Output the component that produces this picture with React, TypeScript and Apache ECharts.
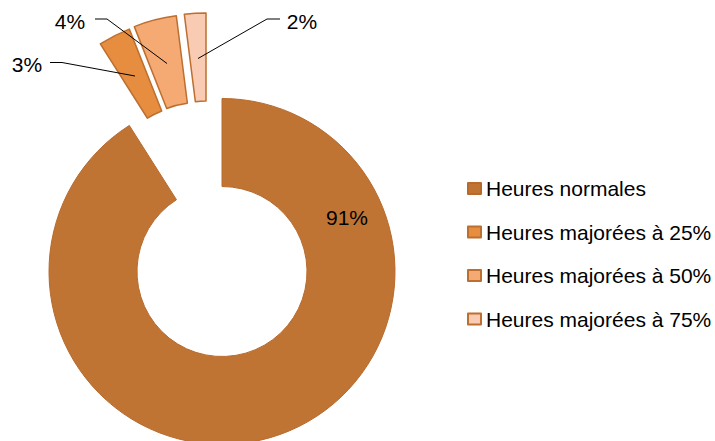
import React, { useEffect, useRef } from "react";
import * as echarts from "echarts";

const categories = [
  "Heures normales",
  "Heures majorées à 25%",
  "Heures majorées à 50%",
  "Heures majorées à 75%",
];
const values = [91, 3, 4, 2];
const colors = ["#C07433", "#E68D40", "#F5AA74", "#F9CBB3"];

// layout (not data)
const CX = 222;
const CY = 271.5;
const explodeShift = [
  [0, 0],
  [-29, -81.5],
  [-24, -84],
  [-16, -85.5],
];
const labelAnchors = [
  [347, 217],
  [27, 64.5],
  [70, 21],
  [302, 21],
];
const leaderLines: number[][][] = [
  [
    [50, 62.5],
    [62, 62.5],
    [135, 76],
  ],
  [
    [95, 19],
    [107, 19],
    [167, 63.5],
  ],
  [
    [280, 19],
    [267, 19],
    [198, 58.5],
  ],
];

const FONT = "'Liberation Sans', Arial, sans-serif";

export default function App() {
  const ref = useRef<HTMLDivElement>(null);
  useEffect(() => {
    if (!ref.current) return;
    const chart = echarts.init(ref.current, undefined, { renderer: "svg" });
    const series = categories.map((_, i) => ({
      type: "pie",
      silent: true,
      selectedMode: false,
      avoidLabelOverlap: false,
      clockwise: true,
      startAngle: 90,
      center: [CX + explodeShift[i][0], CY + explodeShift[i][1]],
      radius: [85, 173],
      emphasis: { disabled: true },
      labelLine: { show: false },
      labelLayout: (params: any) => {
        if (params.dataIndex !== i) return {};
        return {
          x: labelAnchors[i][0],
          y: labelAnchors[i][1],
          align: "center",
          verticalAlign: "middle",
        };
      },
      data: values.map((v, j) =>
        j === i
          ? {
              value: v,
              name: categories[j],
              itemStyle: {
                color: colors[j],
                borderColor: i === 0 ? "#B86A2C" : "#BD6F2F",
                borderWidth: i === 0 ? 1 : 1.5,
              },
              label: {
                show: true,
                position: "inside",
                formatter: "{c}%",
                color: "#000",
                fontSize: 21,
                fontFamily: FONT,
              },
              labelLine: { show: false },
            }
          : {
              value: v,
              name: "__filler" + i + "_" + j,
              itemStyle: { color: "rgba(0,0,0,0)", borderWidth: 0 },
              label: { show: false },
              labelLine: { show: false },
            }
      ),
    }));
    chart.setOption({
      animation: false,
      backgroundColor: "#ffffff",
      legend: {
        orient: "vertical",
        left: 462,
        top: 173,
        itemWidth: 13,
        itemHeight: 11,
        itemGap: 22.5,
        icon: "rect",
        selectedMode: false,
        data: categories,
        textStyle: { fontSize: 21, fontFamily: FONT, color: "#000" },
      },
      graphic: leaderLines.map((pts) => ({
        type: "polyline",
        z: 100,
        silent: true,
        shape: { points: pts },
        style: { stroke: "#000", lineWidth: 1, fill: "none" },
      })),
      series,
    });
    return () => chart.dispose();
  }, []);
  return (
    <div
      ref={ref}
      style={{ position: "absolute", left: 0, top: 0, width: 715, height: 441 }}
    />
  );
}
